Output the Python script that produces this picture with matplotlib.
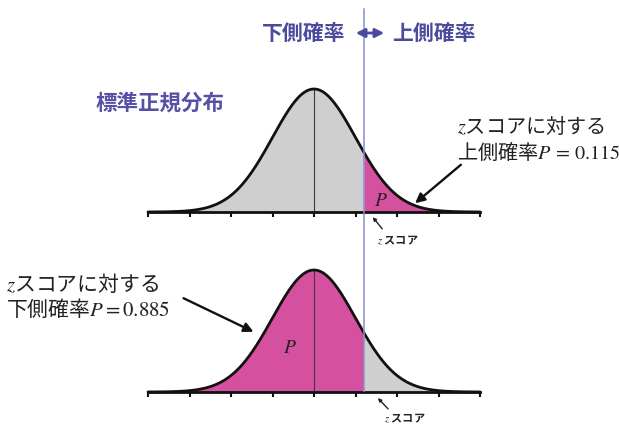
import numpy as np
import matplotlib
matplotlib.use("Agg")
import matplotlib.pyplot as plt
from matplotlib.lines import Line2D
from matplotlib.patches import FancyArrowPatch
from matplotlib.transforms import blended_transform_factory

plt.rcParams['font.family'] = ['Noto Sans CJK JP', 'DejaVu Sans']
plt.rcParams['mathtext.fontset'] = 'stix'

# Standard normal distribution with a z-score split
z_score = 1.2
p_upper = 0.115
p_lower = 0.885
tick_z = [-4, -3, -2, -1, 0, 1, 2, 3, 4]
z_min, z_max = -4, 4

W, H = 619, 435
fig = plt.figure(figsize=(W / 100, H / 100), dpi=100)
fig.patch.set_facecolor('white')


def px(xp, yp):
    """Pixel position (from top-left) to figure fraction."""
    return (xp / W, 1 - yp / H)


def box(left, top, right, bottom):
    return [left / W, 1 - bottom / H, (right - left) / W, (bottom - top) / H]


ax_top = fig.add_axes(box(148, 90, 480, 213))
ax_bot = fig.add_axes(box(148, 271, 480, 393))

x = np.linspace(z_min, z_max, 1601)
pdf = np.exp(-x ** 2 / 2) / np.sqrt(2 * np.pi)
peak = pdf.max()

PINK = '#d5509f'
GRAY = '#cfcfcf'
BLUE_TXT = '#4b4b9d'
TXT = '#222222'


def draw_curve(ax, left_color, right_color):
    ax.fill_between(x, 0, pdf, where=x <= z_score, color=left_color, lw=0, interpolate=True)
    ax.fill_between(x, 0, pdf, where=x >= z_score, color=right_color, lw=0, interpolate=True)
    ax.plot([0, 0], [0, peak], color='#3a3a3a', lw=0.8)
    ax.plot(x, pdf, color='#111111', lw=2.0, clip_on=False, solid_capstyle='round')
    ax.set_xlim(z_min, z_max)
    ax.set_ylim(0, peak)
    for s in ['top', 'right', 'left']:
        ax.spines[s].set_visible(False)
    ax.spines['bottom'].set_linewidth(2.0)
    ax.spines['bottom'].set_color('#111111')
    ax.set_xticks(tick_z)
    ax.set_xticklabels([])
    ax.set_yticks([])
    ax.tick_params(axis='x', direction='out', length=3.5, width=1.5, color='#111111')
    ax.patch.set_alpha(0)


draw_curve(ax_top, GRAY, PINK)
draw_curve(ax_bot, PINK, GRAY)

# vertical z-score line through both panels
trans = blended_transform_factory(ax_top.transData, fig.transFigure)
fig.add_artist(Line2D([z_score, z_score], [1 - 10 / H, 1 - 392 / H],
                      transform=trans, color='#8c8cd2', lw=1.1, zorder=5))

# header
fig.text(*px(345, 34), '下側確率', ha='right', va='center', fontsize=15,
         color=BLUE_TXT, fontweight='bold')
fig.text(*px(392, 34), '上側確率', ha='left', va='center', fontsize=15,
         color=BLUE_TXT, fontweight='bold')
fig.add_artist(FancyArrowPatch(
    px(353, 34), px(387, 34), transform=fig.transFigure,
    arrowstyle='<|-|>', mutation_scale=13, color=BLUE_TXT, lw=2.0, zorder=6))

fig.text(*px(96, 103), '標準正規分布', ha='left', va='center', fontsize=15.5,
         color='#5650a6', fontweight='bold')

# upper probability annotation
fig.text(*px(457, 140), f'$z$スコアに対する\n上側確率$P\\,{{=}}\\,{p_upper}$',
         ha='left', va='center', fontsize=14.5, color=TXT, linespacing=1.2)
fig.add_artist(FancyArrowPatch(
    px(463, 164), px(413, 206), transform=fig.transFigure,
    arrowstyle='-|>', mutation_scale=14, color='#111111', lw=1.7))
ax_top.text(1.62, 0.04, '$P$', fontsize=14, ha='center', va='center', color=TXT)

# lower probability annotation
fig.text(*px(6, 297), f'$z$スコアに対する\n下側確率$P = {p_lower}$',
         ha='left', va='center', fontsize=15, color=TXT, linespacing=1.15)
fig.add_artist(FancyArrowPatch(
    px(181, 298), px(256, 334), transform=fig.transFigure,
    arrowstyle='-|>', mutation_scale=14, color='#111111', lw=1.7))
ax_bot.text(-0.58, 0.15, '$P$', fontsize=14, ha='center', va='center', color=TXT)

# small z-score labels under the axes
for (tx, ty), (a0, a1) in [((377, 241), ((384, 232), (371, 216))),
                           ((384, 419), ((390, 412), (376, 397)))]:
    fig.text(*px(tx, ty), '$z$ スコア', ha='left', va='center', fontsize=8,
             fontweight='bold', color=TXT)
    fig.add_artist(FancyArrowPatch(
        px(*a0), px(*a1), transform=fig.transFigure,
        arrowstyle='-|>', mutation_scale=5, color=TXT, lw=1.0))

fig.savefig('out.png', dpi=100, facecolor='white')
